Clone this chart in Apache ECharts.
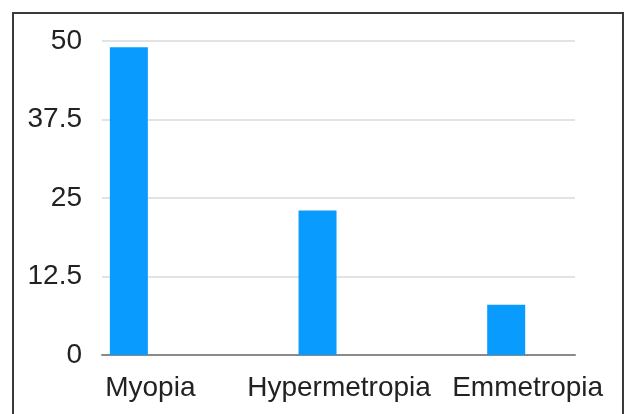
<!DOCTYPE html>
<html>
<head>
<meta charset="utf-8">
<script src="https://cdn.jsdelivr.net/npm/echarts@6/dist/echarts.min.js"></script>
<style>
  html, body { margin: 0; padding: 0; background: #fff; }
  #chart { width: 626px; height: 414px; }
</style>
</head>
<body>
<div id="chart"></div>
<script>
// Données du graphique
const categories = ['Myopia', 'Hypermetropia', 'Emmetropia'];
const values = [49, 23, 8];
const yTicks = [0, 12.5, 25, 37.5, 50];

const dom = document.getElementById('chart');
const myChart = echarts.init(dom);

const textFont = {
    fontFamily: 'Liberation Sans, Helvetica, Arial, sans-serif',
    fontSize: 28,
    color: '#222'
};

myChart.setOption({
    animation: false,
    // grille 0 : axes et lignes de repère, grille 1 : barres et libellés
    grid: [
        { left: 102, right: 51, top: 41, bottom: 59 },
        { left: 56, right: 4, top: 41, bottom: 59 }
    ],
    graphic: [{
        type: 'rect',
        shape: { x: 13, y: 13, width: 610, height: 420 },
        style: { fill: 'none', stroke: '#3a3a3a', lineWidth: 2 },
        silent: true
    }],
    xAxis: [
        {
            type: 'category',
            gridIndex: 0,
            data: categories,
            axisLine: { lineStyle: { color: '#8a8a8a', width: 2 } },
            axisTick: { show: false },
            axisLabel: { show: false }
        },
        {
            type: 'category',
            gridIndex: 1,
            data: categories,
            axisLine: { show: false },
            axisTick: { show: false },
            axisLabel: Object.assign({ margin: 19, interval: 0, hideOverlap: false }, textFont)
        }
    ],
    yAxis: [
        {
            type: 'value',
            gridIndex: 0,
            min: yTicks[0],
            max: yTicks[yTicks.length - 1],
            interval: 12.5,
            axisLine: { show: false },
            axisTick: { show: false },
            axisLabel: Object.assign({ margin: 20 }, textFont),
            splitLine: { lineStyle: { color: '#e3e3e3', width: 2 } }
        },
        {
            type: 'value',
            gridIndex: 1,
            min: yTicks[0],
            max: yTicks[yTicks.length - 1],
            show: false,
            splitLine: { show: false }
        }
    ],
    series: [
        {
            type: 'bar',
            xAxisIndex: 1,
            yAxisIndex: 1,
            barWidth: 38,
            barGap: '13%',
            data: values,
            itemStyle: { color: '#0a9bff' }
        },
        {
            // série vide pour décaler les barres vers la gauche
            type: 'bar',
            xAxisIndex: 1,
            yAxisIndex: 1,
            barWidth: 38,
            data: categories.map(() => null)
        }
    ]
});
</script>
</body>
</html>
